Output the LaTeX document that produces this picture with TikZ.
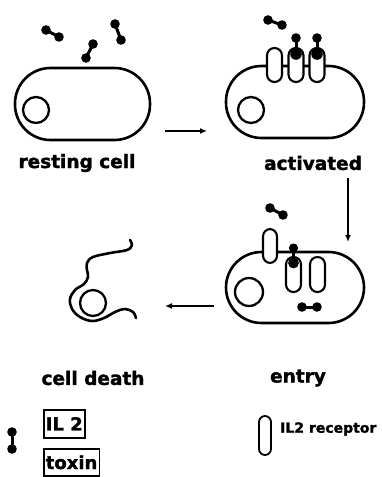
\documentclass[tikz,border=0pt]{standalone}
\usepackage{fontspec}
\setmainfont{DejaVu Sans}
\newfontfamily\heavyfont[FakeBold=1.6]{DejaVu Sans Bold}
\usetikzlibrary{arrows.meta}
\begin{document}
\begin{tikzpicture}[x=1pt,y=-1pt,
  membrane/.style={line width=2.6pt},
  nucleus/.style={line width=2.3pt},
  receptor/.style={line width=2.1pt,fill=white,rounded corners=7.4pt},
  flow/.style={line width=1.9pt,-{Latex[length=7pt,width=6pt]}},
  label/.style={font=\heavyfont\fontsize{18.5}{18.5}\selectfont,inner sep=0pt},
  legendtext/.style={font=\heavyfont\fontsize{14}{14}\selectfont,inner sep=0pt},
  legendbox/.style={draw,line width=1.6pt,inner xsep=2pt,inner ysep=0pt,
    minimum height=28pt,anchor=north west,font=\heavyfont\fontsize{18}{18}\selectfont}]
\useasboundingbox (0,0) rectangle (382,477);
\fill[white] (0,0) rectangle (382,477);

% IL2-toxin molecule: two beads joined by a short neck
\newcommand\conjugate[2]{%
  \draw[line width=3pt] #1 -- #2;
  \fill #1 circle (4.8);
  \fill #2 circle (4.8);}
% receptor bound by a conjugate at its top end
\newcommand\boundreceptor[3]{% x, top y, bottom y
  \draw[receptor] (#1-7.5,#2) rectangle (#1+7.5,#3);
  \fill (#1,#2+6) circle (5.8);
  \draw[line width=3pt] (#1,#2-10) -- (#1,#2+4);
  \fill (#1,#2-10) circle (4.8);}

% ---- resting cell ----
\draw[membrane,rounded corners=35.5pt] (15,68) rectangle (150,140);
\draw[nucleus] (36,110) circle (13);
\conjugate{(46,30)}{(59,37)}
\conjugate{(93,44)}{(86,58)}
\conjugate{(115,24)}{(121,40)}
\node[label] (lrest) at (77,163) {resting cell};

% ---- activated cell ----
\draw[membrane,rounded corners=35.5pt] (226,66) rectangle (364,138);
\draw[nucleus] (251,110) circle (13);
\conjugate{(268,20)}{(282,25)}
\draw[receptor] (267,48) rectangle (282,82);
\boundreceptor{296}{48}{82}
\boundreceptor{317}{48}{82}
\node[label] (lact) at (313,163) {activated};

% ---- entry ----
\draw[membrane,rounded corners=35.5pt] (226,252) rectangle (364,323);
\draw[nucleus] (249,292) circle (14);
\conjugate{(270,208)}{(283,215)}
\draw[receptor] (263,229) rectangle (277,263);
\draw[receptor] (286,257) rectangle (301,292);
\fill (293.5,263) circle (5.4);
\draw[line width=3pt] (293.5,248) -- (293.5,262);
\fill (293.5,248) circle (4.6);
\draw[receptor] (310,257) rectangle (325,292);
\conjugate{(302,307)}{(317,307)}
\node[label] (lentry) at (298,378) {entry};

% ---- cell death ----
\draw[nucleus] (93,303) circle (13);
\draw[membrane,line cap=round,line join=round] plot[smooth,tension=0.6] coordinates {
  (130,240) (132,245) (127,250) (110,253) (93,257) (87,263) (87,270)
  (88,277) (84,284) (75,290) (70,299) (72,309) (80,317) (92,321)
  (104,318) (115,312) (125,309) (133,312) (136,318)};
\node[label] (ldeath) at (93,378) {cell death};

% ---- transitions ----
\coordinate (a1) at (165,131);
\coordinate (b1) at (207,131);
\coordinate (a2) at (348,178);
\coordinate (b2) at (348,242);
\coordinate (a3) at (214,306);
\coordinate (b3) at (165,306);
\draw[flow] (a1) -- (b1);
\draw[flow] (a2) -- (b2);
\draw[flow] (a3) -- (b3);

% ---- legend ----
\conjugate{(12,432)}{(12,449)}
\node[legendbox] (kil) at (43,409) {IL 2};
\node[legendbox,minimum height=27pt] (ktox) at (43,448) {toxin};
\draw[line width=1.8pt,rounded corners=6pt] (259,416) rectangle (271,455);
\node[legendtext,anchor=west] (krec) at (280,429) {IL2 receptor};
\end{tikzpicture}
\end{document}
